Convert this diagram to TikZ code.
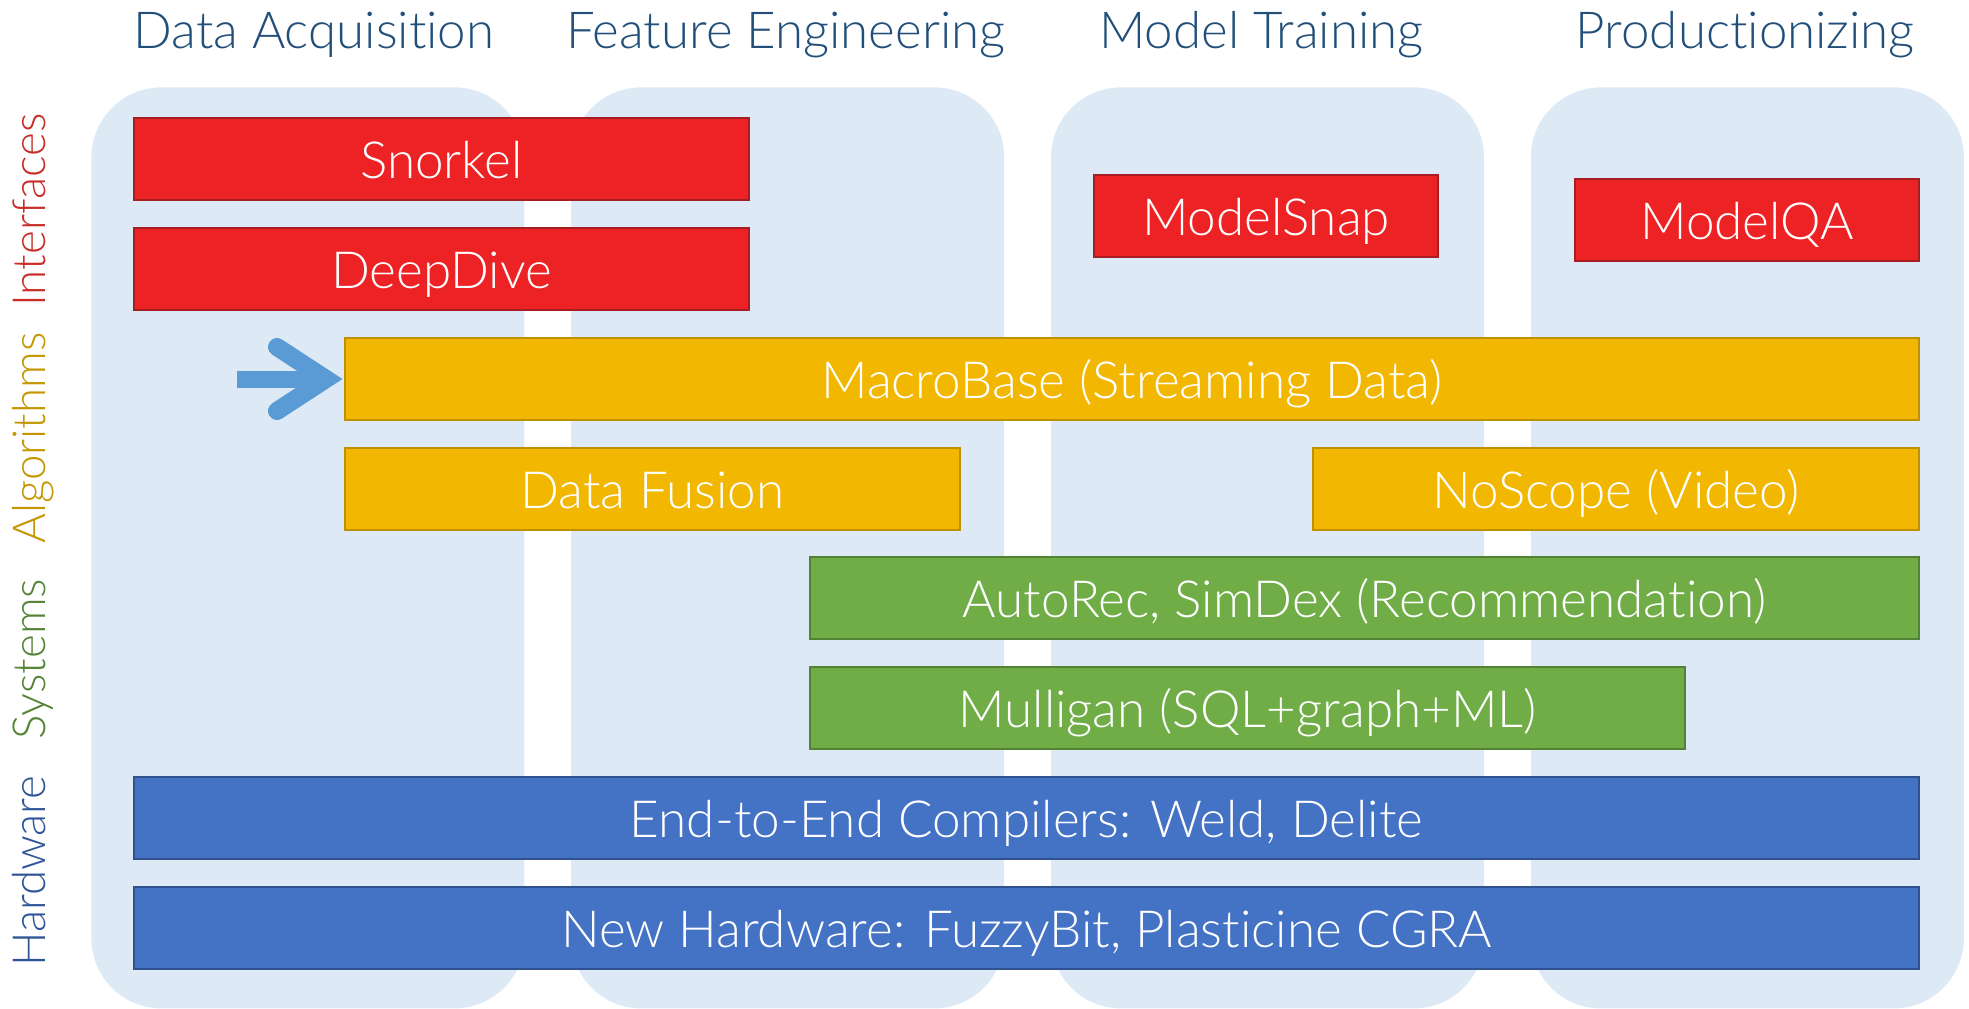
\documentclass[tikz,border=0pt]{standalone}
\usepackage{fontspec}
\IfFontExistsTF{Lato Light}{\setmainfont{Lato Light}[Ligatures=NoCommon]}{\setmainfont{TeX Gyre Heros}}
\usetikzlibrary{positioning}

\definecolor{lanebg}{RGB}{221,233,245}
\definecolor{headblue}{RGB}{33,79,122}
\definecolor{ifred}{RGB}{200,45,40}
\definecolor{algogold}{RGB}{196,150,0}
\definecolor{sysgreen}{RGB}{84,132,53}
\definecolor{hwblue}{RGB}{47,85,151}
\definecolor{redfill}{RGB}{237,34,36}
\definecolor{redline}{RGB}{165,30,35}
\definecolor{goldfill}{RGB}{242,183,0}
\definecolor{goldline}{RGB}{191,144,0}
\definecolor{greenfill}{RGB}{112,173,71}
\definecolor{greenline}{RGB}{84,130,53}
\definecolor{bluefill}{RGB}{68,114,196}
\definecolor{blueline}{RGB}{47,82,143}
\definecolor{arrowblue}{RGB}{91,155,213}

\tikzset{
    lane/.style={
        rectangle,
        fill=lanebg, % 浅蓝色背景
        rounded corners=35pt,
        minimum width=216.5pt,
        minimum height=460.5pt,
        inner sep=0
    },
    headnode/.style={
        text=headblue,
        inner sep=0,
        font=\fontsize{25.5pt}{30pt}\selectfont
    },
    sidenode/.style={
        rotate=90, % 竖排标签
        anchor=base,
        inner sep=0,
        font=\fontsize{22.8pt}{27pt}\selectfont
    },
    layerbox/.style={
        rectangle,
        line width=1pt,
        minimum height=41pt,
        inner sep=0,
        text height=19pt,
        text depth=0pt,
        text=white,
        font=\fontsize{25.6pt}{30pt}\selectfont
    },
    rednode/.style={layerbox, draw=redline, fill=redfill},
    goldnode/.style={layerbox, draw=goldline, fill=goldfill},
    greennode/.style={layerbox, draw=greenline, fill=greenfill},
    bluenode/.style={layerbox, draw=blueline, fill=bluefill},
    shaft/.style={
        draw=arrowblue,
        line width=8.5pt
    },
    chevron/.style={
        draw=arrowblue,
        line width=9pt,
        line cap=round, % 圆头
        line join=miter
    }
}

\begin{document}
\begin{tikzpicture}[x=0.5pt, y=-0.5pt]
    \useasboundingbox (0,0) rectangle (1969,1008);

    % 四个阶段的背景
    \node[lane, anchor=north west] (acq) at (91,87) {};
    \node[lane, right=23pt of acq] (feat) {};
    \node[lane, right=23pt of feat] (train) {};
    \node[lane, right=23pt of train] (prod) {};

    % 阶段标题
    \node[headnode, above=19.5pt of acq.north, anchor=base, xshift=3pt] (hacq) {Data Acquisition};
    \node[headnode, above=19.5pt of feat.north, anchor=base, xshift=-1pt] (hfeat) {Feature Engineering};
    \node[headnode, above=19.5pt of train.north, anchor=base, xshift=-3pt] (htrain) {Model Training};
    \node[headnode, above=19.5pt of prod.north, anchor=base, xshift=-1pt] (hprod) {Productionizing};

    % 左侧分层标签
    \node[sidenode, text=ifred] (lif) at (46,210) {Interfaces};
    \node[sidenode, text=algogold] (lalg) at (46,438) {Algorithms};
    \node[sidenode, text=sysgreen] (lsys) at (46,659) {Systems};
    \node[sidenode, text=hwblue] (lhw) at (46,871) {Hardware};

    % Interfaces
    \node[rednode, minimum width=307.5pt, anchor=north west] (snorkel) at (133,117) {Snorkel};
    \node[rednode, minimum width=307.5pt, below=13pt of snorkel] (deepdive) {DeepDive};
    \node[rednode, minimum width=172pt, anchor=north west] (modelsnap) at (1093,174) {ModelSnap};
    \node[rednode, minimum width=172pt, anchor=north west] (modelqa) at (1574,178) {ModelQA};

    % Algorithms
    \node[goldnode, minimum width=787pt, anchor=north west] (macro) at (344,337) {MacroBase (Streaming Data)};
    \node[goldnode, minimum width=307.5pt, below right=13pt and 0pt of macro.south west] (fusion) {Data Fusion};
    \node[goldnode, minimum width=303pt, below left=13pt and 0pt of macro.south east] (noscope) {NoScope (Video)};

    % Systems
    \node[greennode, minimum width=554.5pt, anchor=north west] (autorec) at (809,556) {AutoRec, SimDex (Recommendation)};
    \node[greennode, minimum width=437.5pt, below right=13pt and 0pt of autorec.south west] (mulligan) {Mulligan (SQL+graph+ML)};

    % Hardware
    \node[bluenode, minimum width=892.5pt, anchor=north west] (weld) at (133,776) {End-to-End Compilers: Weld, Delite};
    \node[bluenode, minimum width=892.5pt, below=13pt of weld] (newhw) {New Hardware: FuzzyBit, Plasticine CGRA};

    % 指向 MacroBase 的箭头
    \coordinate[left=53.5pt of macro.west] (arrtail);
    \draw[shaft] (arrtail) -- ([xshift=-8.5pt]macro.west);
    \draw[chevron] ([shift={(-33.5pt,16pt)}]macro.west) -- ([xshift=-9pt]macro.west)
        -- ([shift={(-33.5pt,-16pt)}]macro.west);
\end{tikzpicture}
\end{document}
